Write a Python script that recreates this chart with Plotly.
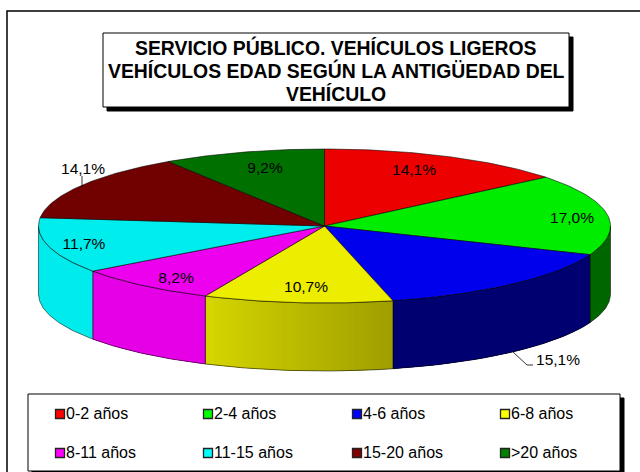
import numpy as np
import plotly.graph_objects as go

categories = ["0-2 años", "2-4 años", "4-6 años", "6-8 años",
              "8-11 años", "11-15 años", "15-20 años", ">20 años"]
shares = [14.1, 17.0, 15.1, 10.7, 8.2, 11.7, 14.1, 9.2]
labels = ["14,1%", "17,0%", "15,1%", "10,7%", "8,2%", "11,7%", "14,1%", "9,2%"]
colors = [(255, 0, 0), (0, 255, 0), (0, 0, 255), (255, 255, 0),
          (255, 0, 255), (0, 255, 255), (128, 0, 0), (0, 128, 0)]
title_lines = ["SERVICIO PÚBLICO. VEHÍCULOS LIGEROS",
               "VEHÍCULOS EDAD SEGÚN LA ANTIGÜEDAD DEL", "VEHÍCULO"]

# layout of the drawing, in page pixels
CX, CY, RX, RY, DEPTH = 324.5, 226, 286, 77, 68
label_xy = [(414, 171), (572, 219), (558, 361), (306, 288),
            (176, 279), (84, 245), (83, 170), (265, 169)]
# side shading: angle (deg, clockwise from top) -> brightness
shade_a = [90, 112, 112.01, 166.3, 166.31, 204.8, 204.81, 234, 234.01, 270]
shade_f = [0.40, 0.40, 0.44, 0.44, 0.62, 0.84, 0.90, 0.90, 0.92, 0.92]
def px(a): return CX + RX * np.sin(np.radians(a))
def py(a): return CY - RY * np.cos(np.radians(a))
def rgb(c, f=1.0): return "rgb(%d,%d,%d)" % tuple(round(v * f) for v in c)

total = sum(shares)
edges = np.concatenate([[0], np.cumsum(shares) / total * 360])

fig = go.Figure()
def poly(x, y, fill, line="rgba(0,0,0,0)", w=0):
    fig.add_trace(go.Scatter(x=x, y=y, mode="lines", fill="toself", fillcolor=fill,
                             line=dict(color=line, width=w), hoverinfo="skip",
                             showlegend=False))

# rim (front half of the disc)
for i, c in enumerate(colors):
    a0, a1 = max(edges[i], 90), min(edges[i + 1], 270)
    if a1 <= a0:
        continue
    fa, fb = np.interp([a0 + 0.02, a1 - 0.02], shade_a, shade_f)
    aa = np.linspace(a0, a1, 40)
    poly(np.r_[px(aa), px(aa)[::-1]], np.r_[py(aa), py(aa)[::-1] + DEPTH], rgb(c, (fa + fb) / 2))
    if abs(fa - fb) > 0.01:   # only shaded pieces need strips
        t = np.linspace(a0, a1, 41)
        for s0, s1 in zip(t[:-1], t[1:]):
            f = np.interp((s0 + s1) / 2, shade_a, shade_f)
            bb = np.linspace(s0, a1 if s1 >= a1 else s1 + (s1 - s0), 4)
            poly(np.r_[px(bb), px(bb)[::-1]], np.r_[py(bb), py(bb)[::-1] + DEPTH], rgb(c, f))
    fig.add_trace(go.Scatter(
        x=np.r_[px(aa), px(aa)[::-1], px(aa)[0]],
        y=np.r_[py(aa), py(aa)[::-1] + DEPTH, py(aa)[0]],
        mode="lines", line=dict(color="rgba(0,0,0,0.75)", width=0.7),
        hoverinfo="skip", showlegend=False))

# top face
for i, c in enumerate(colors):
    aa = np.linspace(edges[i], edges[i + 1], 60)
    x = np.r_[CX, px(aa), CX]
    y = np.r_[CY, py(aa), CY]
    poly(x, y, rgb(c, 0.93 if c != (128, 0, 0) and c != (0, 128, 0) else 0.88),
         "rgba(0,0,0,0.8)", 0.7)

# value labels
fig.add_trace(go.Scatter(x=[p[0] for p in label_xy], y=[p[1] for p in label_xy],
                         mode="text", text=labels, textposition="middle center",
                         textfont=dict(family="Liberation Sans", size=15.5, color="black"),
                         hoverinfo="skip", showlegend=False))
# leader lines
fig.add_trace(go.Scatter(x=[82, 82, None, 513, 527, 533], y=[176, 187, None, 352, 365, 365],
                         mode="lines", line=dict(color="black", width=0.8),
                         hoverinfo="skip", showlegend=False))

shapes = []
def box(x0, y0, x1, y1, shadow=4):
    shapes.append(dict(type="rect", x0=x0 + shadow, y0=y0 + shadow, x1=x1 + shadow, y1=y1 + shadow,
                       fillcolor="black", line=dict(color="black", width=1), layer="below"))
    shapes.append(dict(type="rect", x0=x0, y0=y0, x1=x1, y1=y1,
                       fillcolor="white", line=dict(color="black", width=1), layer="below"))
# outer frame runs off the right and bottom of the picture
shapes.append(dict(type="rect", x0=7, y0=11, x1=670, y1=500, fillcolor="white",
                   line=dict(color="black", width=1.5), layer="below"))
box(103, 33, 569, 107)
box(28, 394, 620, 471)

annotations = [dict(x=336, y=47 + 23.5 * k, text=t, showarrow=False, xref="x", yref="y",
                    font=dict(family="Liberation Sans", size=19.4, color="black"),
                    xanchor="center", yanchor="middle")
               for k, t in enumerate("<b>%s</b>" % s for s in title_lines)]
fig.update_layout(annotations=annotations)

# legend
col_x = [55, 203, 352, 500]
row_y = [414, 453]
for i, (name, c) in enumerate(zip(categories, colors)):
    x = col_x[i % 4]
    y = row_y[i // 4]
    fig.add_trace(go.Scatter(x=[x + 5], y=[y], mode="markers",
                             marker=dict(symbol="square", size=9, color=rgb(c),
                                         line=dict(color="#222", width=1.3)),
                             hoverinfo="skip", showlegend=False))
    fig.add_trace(go.Scatter(x=[x + 11], y=[y + 1], mode="text", text=[name],
                             textposition="middle right",
                             textfont=dict(family="Liberation Sans", size=16, color="black"),
                             hoverinfo="skip", showlegend=False))

fig.update_layout(
    width=640, height=472, margin=dict(l=0, r=0, t=0, b=0),
    paper_bgcolor="white", plot_bgcolor="white", shapes=shapes,
    xaxis=dict(range=[0, 640], visible=False, fixedrange=True),
    yaxis=dict(range=[472, 0], visible=False, fixedrange=True),
    showlegend=False,
)
fig.write_html("out.html", config=dict(displayModeBar=False),
               post_script="document.body.style.margin='0';document.body.style.overflow='hidden';")
